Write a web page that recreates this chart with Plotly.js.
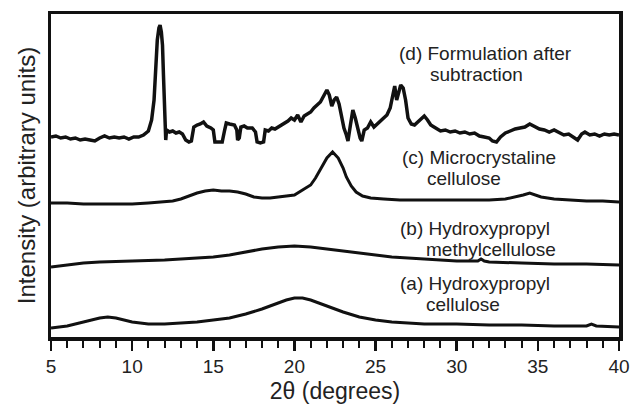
<!DOCTYPE html>
<html>
<head>
<meta charset="utf-8">
<script src="https://cdn.plot.ly/plotly-3.0.1.min.js"></script>
<style>html,body{margin:0;padding:0;background:#fff;}#chart{width:635px;height:404px;}</style>
</head>
<body>
<div id="chart"></div>
<script>
// (a) Hydroxypropyl cellulose
const xA = [5,5.5,6,7,8,8.5,9,10,11,12,13,14,15,16,17,18,19,19.5,20,20.5,21,22,23,24,25,26,27,28,30,32,34,36,38,38.3,38.6,40];
const yA = [9,10,11,15,19,20,19,15,13,13,14,15,17,19,23,28,34,37,39,39,37,31,25,20,17,15,14,13,13,12,12,11,11,13,11,10];

// (b) Hydroxypropyl methylcellulose
const xB = [5,6,7,8,10,12,14,15,16,17,18,19,20,21,22,23,24,25,26,27,28,30,31.3,31.5,31.7,32,34,36,38,40];
const yB = [70,72,74,75,76,77,79,80,82,85,88,90,91,90,88,86,84,82,80,79,78,76,76,78,76,75,74,73,73,72];

// (c) Microcrystaline cellulose
const xC = [5,6,7,8,9,10,11,12,12.5,13,13.5,14,14.5,15,15.5,16,16.5,17,17.5,18,18.5,19,19.5,20,20.5,21,21.3,21.6,22,22.35,22.7,23,23.2,23.5,23.8,24.2,24.7,25.5,26.5,28,30,32,33,33.6,34.1,34.5,34.8,35.2,36,37,38,39,40];
const yC = [134,134,133,133,133,133,134,135,136,138,141,144,146,147,146,146,145,143,140,139,139,140,141,142,147,152,159,167,179,185,179,169,160,151,145,141,139,138,137,137,137,137,138,140,142,144,142,140,138,137,136,136,135];

// (d) Formulation after subtraction
const xD = [5,5.3,5.6,5.9,6.2,6.5,6.8,7.1,7.4,7.7,8,8.3,8.6,8.9,9.2,9.5,9.8,10.1,10.4,10.7,11,11.2,11.35,11.45,11.55,11.65,11.72,11.8,11.87,11.93,11.98,12.03,12.07,12.12,12.3,12.5,12.7,12.9,13.1,13.3,13.5,13.65,13.8,14,14.2,14.4,14.6,14.85,15,15.1,15.3,15.55,15.7,15.8,16,16.3,16.45,16.5,16.6,16.7,16.9,17.1,17.4,17.6,17.7,17.9,18.1,18.2,18.4,18.6,18.8,19,19.2,19.4,19.6,19.8,20,20.2,20.4,20.6,20.8,21,21.2,21.4,21.6,21.8,22,22.15,22.3,22.45,22.6,22.75,22.9,23.05,23.2,23.3,23.45,23.6,23.75,23.9,24.05,24.15,24.3,24.5,24.7,24.9,25.1,25.3,25.5,25.7,25.9,26.05,26.18,26.3,26.42,26.55,26.7,26.85,27,27.2,27.4,27.6,27.85,28,28.2,28.4,28.6,28.8,29,29.3,29.6,29.9,30.2,30.5,30.8,31.1,31.4,31.7,32,32.2,32.45,32.7,33,33.3,33.6,33.9,34.2,34.5,34.8,35.1,35.4,35.7,36,36.3,36.6,36.9,37.2,37.45,37.7,37.9,38.2,38.5,38.8,39.1,39.4,39.7,40];
const yD = [200,201,199,200,198,199,197,198,197,196,199,201,199,200,199,200,198,200,200,202,206,217,237,272,297,309,312,305,292,262,237,207,197,207,205,206,204,205,203,197,195,196,210,212,213,215,211,209,207,195,195,195,207,214,213,212,207,197,199,210,211,209,209,205,195,194,195,207,206,209,208,210,212,213,216,219,217,222,215,221,223,225,229,232,235,241,247,242,231,237,240,233,219,209,202,196,212,227,219,209,199,196,207,209,215,210,213,217,219,222,229,242,251,237,245,252,249,237,219,213,212,215,219,221,217,212,210,208,206,207,205,206,204,205,203,204,201,200,199,196,195,200,204,206,208,209,210,213,210,208,207,205,207,204,202,203,200,197,203,205,202,203,201,203,202,203,202];

const xTicks = [5,10,15,20,25,30,35,40];

const labels = [
  {x:26.34, y:284, t:'(d) Formulation after'},
  {x:28.25, y:263, t:'subtraction'},
  {x:26.53, y:180, t:'(c) Microcrystaline'},
  {x:28.06, y:159, t:'cellulose'},
  {x:26.4, y:109, t:'(b) Hydroxypropyl'},
  {x:28.0, y:88, t:'methylcellulose'},
  {x:26.4, y:54, t:'(a) Hydroxypropyl'},
  {x:28.0, y:33, t:'cellulose'}
];

const data = [
  {x:xA, y:yA, mode:'lines', line:{color:'#111', width:3}, hoverinfo:'skip'},
  {x:xB, y:yB, mode:'lines', line:{color:'#111', width:3}, hoverinfo:'skip'},
  {x:xC, y:yC, mode:'lines', line:{color:'#111', width:3}, hoverinfo:'skip'},
  {x:xD, y:yD, mode:'lines', line:{color:'#111', width:3.5}, hoverinfo:'skip'}
];

const layout = {
  width:635, height:404,
  margin:{l:51, r:16, t:14, b:67},
  paper_bgcolor:'#fff', plot_bgcolor:'#fff',
  showlegend:false,
  font:{family:'"Liberation Sans", Arial, sans-serif', color:'#222'},
  xaxis:{
    range:[5,40], tickvals:xTicks, ticktext:xTicks.map(String),
    ticks:'outside', ticklen:10, tickwidth:2.5, tickcolor:'#111',
    minor:{dtick:1, tick0:5, ticks:'outside', ticklen:7, tickwidth:2, tickcolor:'#111'},
    showline:true, linecolor:'#111', linewidth:3.5, mirror:true,
    showgrid:false, zeroline:false,
    tickfont:{size:19, color:'#222'},
    title:{text:'2θ (degrees)', font:{size:23, color:'#222'}, standoff:14}
  },
  yaxis:{
    range:[0,323], showticklabels:false, ticks:'',
    showline:true, linecolor:'#111', linewidth:3.5, mirror:true,
    showgrid:false, zeroline:false,
    title:{text:'Intensity (arbitrary units)', font:{size:24, color:'#222'}, standoff:6}
  },
  annotations: labels.map(l => ({
    x:l.x, y:l.y, xref:'x', yref:'y', text:l.t, showarrow:false,
    xanchor:'left', yanchor:'middle', font:{size:19, color:'#222'}
  }))
};

Plotly.newPlot('chart', data, layout, {staticPlot:true, displayModeBar:false});
</script>
</body>
</html>
